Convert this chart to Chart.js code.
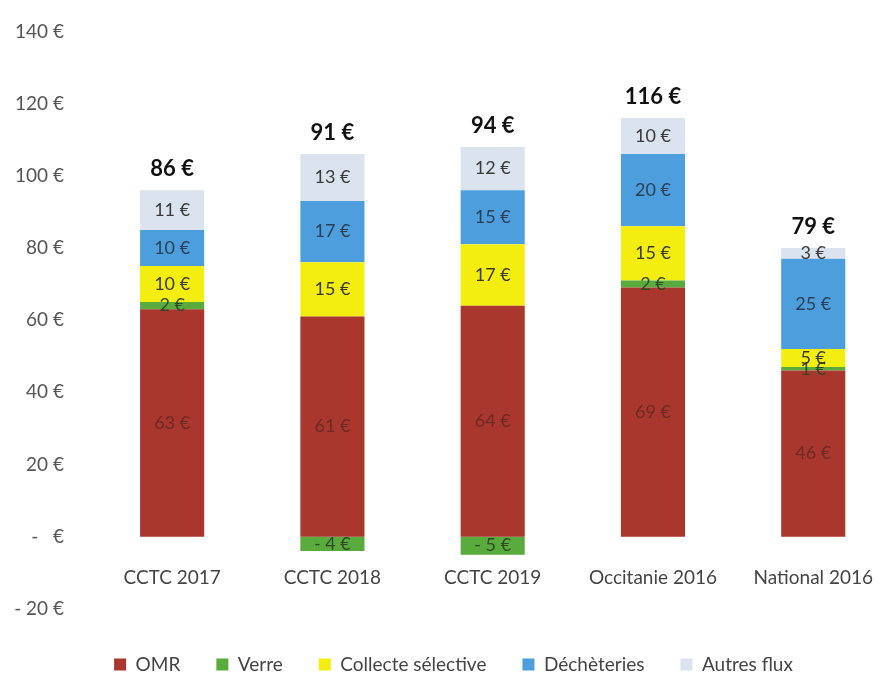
<!DOCTYPE html>
<html>
<head>
<meta charset="utf-8">
<script src="https://cdn.jsdelivr.net/npm/chart.js@4"></script>
<style>
  body { margin: 0; background: #fff; }
  #wrap { width: 895px; height: 680px; }
</style>
</head>
<body>
<div id="wrap"><canvas id="chart" width="895" height="680"></canvas></div>
<script>
const categories = ["CCTC 2017", "CCTC 2018", "CCTC 2019", "Occitanie 2016", "National 2016"];
const omr = [63, 61, 64, 69, 46];
const verre = [2, -4, -5, 2, 1];
const collecte = [10, 15, 17, 15, 5];
const decheteries = [10, 17, 15, 20, 25];
const autres = [11, 13, 12, 10, 3];
const totals = ["86 €", "91 €", "94 €", "116 €", "79 €"];
const yTicks = [-20, 0, 20, 40, 60, 80, 100, 120, 140];

const FONT = "Lato, 'Liberation Sans', sans-serif";

// format like Excel accounting: "- €", "- 4 €"
const euro = v => v === 0 ? "-   €" : (v < 0 ? "- " + Math.abs(v) + " €" : v + " €");

const labelColors = ["#6e2a24", "#2f4a22", "#3a3a20", "#2d3f55", "#3a3a3a"];

const valueLabels = {
    id: "valueLabels",
    afterDatasetsDraw(chart) {
        const ctx = chart.ctx;
        ctx.save();
        ctx.textAlign = "center";
        ctx.textBaseline = "middle";
        ctx.font = "18px " + FONT;
        chart.data.datasets.forEach((ds, i) => {
            const meta = chart.getDatasetMeta(i);
            meta.data.forEach((bar, j) => {
                ctx.fillStyle = labelColors[i];
                ctx.fillText(euro(ds.data[j]), bar.x, (bar.y + bar.base) / 2);
            });
        });
        // totals above each stack
        ctx.font = "bold 22px " + FONT;
        ctx.fillStyle = "#111";
        ctx.textBaseline = "bottom";
        const topMeta = chart.getDatasetMeta(chart.data.datasets.length - 1);
        topMeta.data.forEach((bar, j) => {
            ctx.fillText(totals[j], bar.x, bar.y - 10);
        });
        ctx.restore();
    }
};

new Chart(document.getElementById("chart"), {
    type: "bar",
    data: {
        labels: categories,
        datasets: [
            { label: "OMR", data: omr, backgroundColor: "#a9372e" },
            { label: "Verre", data: verre, backgroundColor: "#5aab3e" },
            { label: "Collecte sélective", data: collecte, backgroundColor: "#f4ee10" },
            { label: "Déchèteries", data: decheteries, backgroundColor: "#4c9fdc" },
            { label: "Autres flux", data: autres, backgroundColor: "#dbe3ee" }
        ]
    },
    options: {
        responsive: false,
        animation: false,
        layout: { padding: { top: 23, left: 0, right: -12, bottom: -4 } },
        datasets: { bar: { categoryPercentage: 0.8, barPercentage: 0.5 } },
        plugins: {
            tooltip: { enabled: false },
            legend: {
                position: "bottom",
                title: { display: true, text: "", font: { size: 1 }, padding: { top: 9, bottom: 0 } },
                labels: {
                    font: { family: FONT, size: 19 },
                    color: "#444",
                    boxWidth: 12,
                    boxHeight: 12,
                    padding: 36
                }
            }
        },
        scales: {
            x: {
                stacked: true,
                position: { y: 0 },
                grid: { display: false },
                border: { display: false },
                ticks: { font: { family: FONT, size: 19 }, color: "#444", padding: 22 }
            },
            y: {
                stacked: true,
                min: -20,
                max: 140,
                afterBuildTicks: axis => { axis.ticks = yTicks.map(v => ({ value: v })); },
                afterFit: axis => { axis.width = 92; },
                grid: { display: false },
                border: { display: false },
                ticks: {
                    font: { family: FONT, size: 19 },
                    color: "#555",
                    padding: 20,
                    callback: v => euro(v)
                }
            }
        }
    },
    plugins: [valueLabels]
});
</script>
</body>
</html>
